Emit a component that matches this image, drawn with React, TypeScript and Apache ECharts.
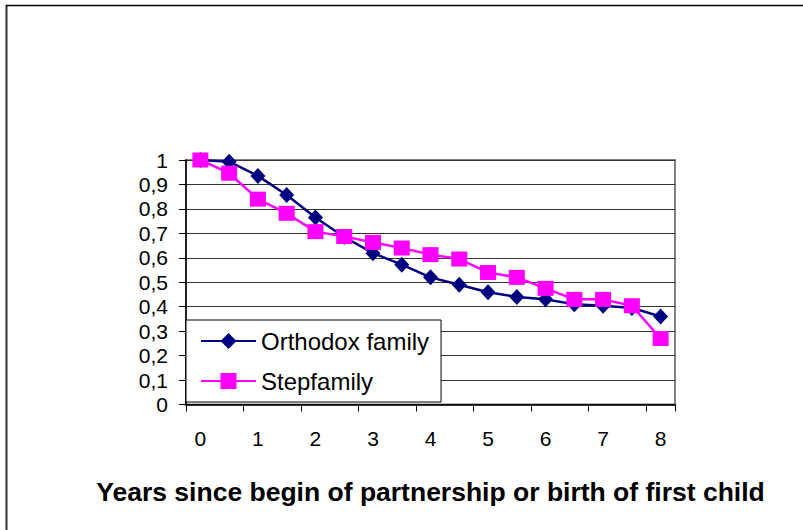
import React, { useEffect, useRef } from "react";
import * as echarts from "echarts";

const categories = ["0", "0.5", "1", "1.5", "2", "2.5", "3", "3.5", "4", "4.5", "5", "5.5", "6", "6.5", "7", "7.5", "8"];
const orthodox = [1.0, 0.993, 0.935, 0.857, 0.765, 0.685, 0.619, 0.572, 0.52, 0.49, 0.459, 0.44, 0.43, 0.41, 0.404, 0.395, 0.36];
const stepfamily = [1.0, 0.946, 0.84, 0.782, 0.707, 0.687, 0.663, 0.64, 0.613, 0.595, 0.54, 0.52, 0.475, 0.43, 0.43, 0.404, 0.27];
const seriesNames = ["Orthodox family", "Stepfamily"];
const xTitle = "Years since begin of partnership or birth of first child";

const FONT = "'Liberation Sans', Arial, sans-serif";

export default function App() {
  const ref = useRef<HTMLDivElement>(null);
  useEffect(() => {
    if (!ref.current) return;
    const chart = echarts.init(ref.current, undefined, { renderer: "svg" });
    chart.setOption({
      animation: false,
      backgroundColor: "#ffffff",
      textStyle: { fontFamily: FONT },
      grid: {
        left: 186,
        right: 128,
        top: 160,
        bottom: 125.5,
        show: true,
        borderColor: "#808080",
        borderWidth: 2,
        backgroundColor: "transparent",
      },
      legend: {
        orient: "vertical",
        left: 186,
        top: 320,
        padding: [8, 12, 8, 14],
        itemWidth: 55,
        itemHeight: 20,
        itemGap: 14,
        borderColor: "#000",
        borderWidth: 1,
        backgroundColor: "#fff",
        textStyle: { fontFamily: FONT, fontSize: 24, color: "#000", lineHeight: 26, padding: [0, 0, 0, 0] },
        data: seriesNames,
      },
      xAxis: {
        type: "category",
        data: categories,
        boundaryGap: true,
        name: xTitle,
        nameLocation: "middle",
        nameGap: 74,
        nameTextStyle: { fontFamily: FONT, fontSize: 26.5, fontWeight: "bold", color: "#000" },
        axisLine: { lineStyle: { color: "#000", width: 1.5 } },
        axisTick: { show: true, interval: 1, length: 7, lineStyle: { color: "#000", width: 1 } },
        axisLabel: {
          interval: 1,
          margin: 23,
          fontSize: 21,
          color: "#000",
          fontFamily: FONT,
        },
        splitLine: { show: false },
      },
      yAxis: {
        type: "value",
        min: 0,
        max: 1,
        interval: 0.1,
        axisLine: { show: true, lineStyle: { color: "#000", width: 1.5 } },
        axisTick: { show: true, length: 7, lineStyle: { color: "#000", width: 1 } },
        axisLabel: {
          margin: 18,
          fontSize: 21,
          color: "#000",
          fontFamily: FONT,
          formatter: (v: number) => {
            const r = Math.round(v * 10) / 10;
            if (r === 0) return "0";
            if (r === 1) return "1";
            return r.toFixed(1).replace(".", ",");
          },
        },
        splitLine: { show: true, lineStyle: { color: "#333", width: 1 } },
      },
      series: [
        {
          name: seriesNames[0],
          type: "line",
          data: orthodox,
          symbol: "diamond",
          symbolSize: [15, 16],
          lineStyle: { color: "#000080", width: 2.5 },
          itemStyle: { color: "#000080" },
          z: 2,
        },
        {
          name: seriesNames[1],
          type: "line",
          data: stepfamily,
          symbol: "rect",
          symbolSize: [16, 15],
          lineStyle: { color: "#ff00ff", width: 2.5 },
          itemStyle: { color: "#ff00ff" },
          z: 3,
        },
      ],
      graphic: [
        { type: "line", shape: { x1: 6.5, y1: 5, x2: 6.5, y2: 530 }, style: { stroke: "#333", lineWidth: 2 } },
        { type: "line", shape: { x1: 6, y1: 5.5, x2: 803, y2: 5.5 }, style: { stroke: "#000", lineWidth: 1.5 } },
      ],
    });
    return () => chart.dispose();
  }, []);
  return <div ref={ref} style={{ position: "fixed", left: 0, top: 0, width: 803, height: 530 }} />;
}
